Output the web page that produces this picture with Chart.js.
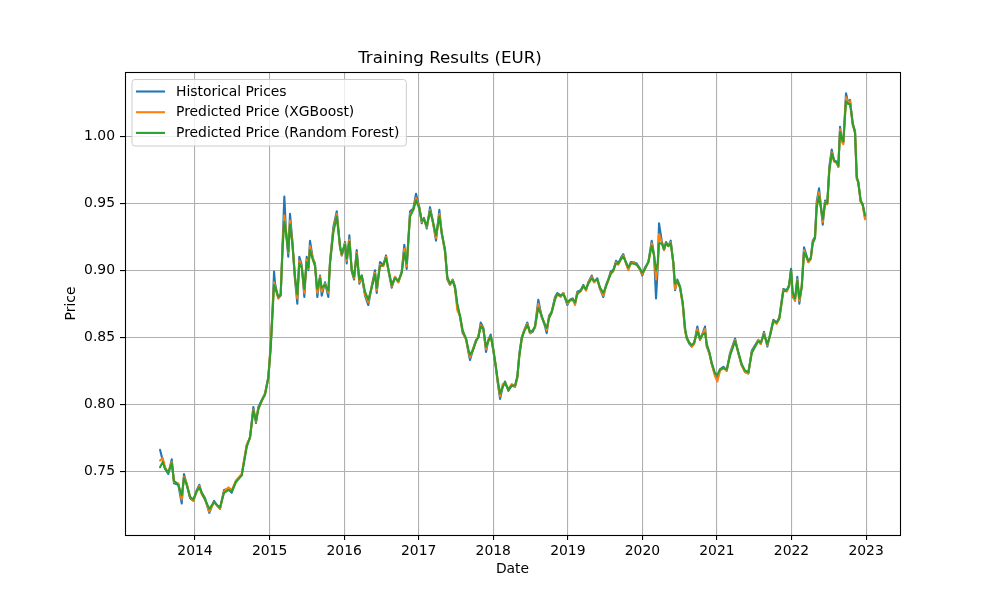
<!DOCTYPE html>
<html>
<head>
<meta charset="utf-8">
<title>Training Results (EUR)</title>
<script src="https://cdn.jsdelivr.net/npm/chart.js@4.4.1/dist/chart.umd.min.js"></script>
<style>
  html, body { margin: 0; padding: 0; background: #fff; }
  #wrap { width: 1000px; height: 600px; }
</style>
</head>
<body>
<div id="wrap"><canvas id="myChart" width="1000" height="600"></canvas></div>
<script>
'use strict';

// dates as decimal years
let dates = [
  2013.531,2013.567,2013.598,2013.642,2013.688,2013.718,2013.776,2013.822,2013.852,2013.889,
  2013.933,2013.977,2014.023,2014.058,2014.090,2014.134,2014.192,2014.255,2014.291,2014.335,
  2014.389,2014.447,2014.492,2014.550,2014.626,2014.693,2014.738,2014.782,2014.818,2014.849,
  2014.895,2014.939,2014.983,2015.015,2015.042,2015.060,2015.073,2015.117,2015.149,2015.176,
  2015.198,2015.221,2015.251,2015.274,2015.305,2015.341,2015.372,2015.399,2015.431,2015.466,
  2015.498,2015.520,2015.542,2015.579,2015.609,2015.640,2015.677,2015.699,2015.744,2015.788,
  2015.811,2015.855,2015.901,2015.945,2015.968,2016.012,2016.035,2016.070,2016.102,2016.133,
  2016.169,2016.204,2016.236,2016.280,2016.324,2016.370,2016.414,2016.437,2016.481,2016.526,
  2016.562,2016.593,2016.638,2016.682,2016.727,2016.772,2016.807,2016.839,2016.884,2016.928,
  2016.964,2017.008,2017.041,2017.071,2017.108,2017.152,2017.188,2017.232,2017.277,2017.309,
  2017.353,2017.384,2017.420,2017.456,2017.487,2017.518,2017.554,2017.590,2017.635,2017.666,
  2017.688,2017.725,2017.769,2017.800,2017.832,2017.867,2017.903,2017.934,2017.966,2018.001,
  2018.033,2018.060,2018.091,2018.127,2018.158,2018.202,2018.248,2018.292,2018.323,2018.350,
  2018.382,2018.413,2018.457,2018.493,2018.529,2018.560,2018.604,2018.650,2018.685,2018.717,
  2018.748,2018.784,2018.828,2018.859,2018.905,2018.940,2018.993,2019.030,2019.066,2019.097,
  2019.127,2019.173,2019.208,2019.244,2019.275,2019.321,2019.351,2019.396,2019.432,2019.476,
  2019.512,2019.543,2019.575,2019.610,2019.646,2019.677,2019.710,2019.744,2019.781,2019.811,
  2019.844,2019.878,2019.924,2019.968,2019.999,2020.035,2020.080,2020.125,2020.156,2020.183,
  2020.206,2020.223,2020.259,2020.290,2020.317,2020.348,2020.380,2020.415,2020.438,2020.469,
  2020.505,2020.541,2020.572,2020.595,2020.630,2020.662,2020.693,2020.737,2020.773,2020.809,
  2020.840,2020.863,2020.898,2020.930,2020.974,2021.005,2021.041,2021.086,2021.131,2021.175,
  2021.243,2021.287,2021.332,2021.377,2021.421,2021.467,2021.511,2021.555,2021.587,2021.631,
  2021.676,2021.712,2021.756,2021.802,2021.837,2021.890,2021.936,2021.967,2021.994,2022.016,
  2022.047,2022.078,2022.105,2022.137,2022.168,2022.195,2022.226,2022.258,2022.285,2022.315,
  2022.338,2022.369,2022.396,2022.419,2022.450,2022.480,2022.507,2022.539,2022.570,2022.607,
  2022.628,2022.651,2022.674,2022.695,2022.731,2022.762,2022.785,2022.821,2022.852,2022.875,
  2022.896,2022.928,2022.955,2022.986
];

let historical = [
  0.766,0.758,0.752,0.748,0.759,0.741,0.740,0.726,0.748,0.740,
  0.730,0.728,0.736,0.740,0.734,0.730,0.719,0.728,0.725,0.722,
  0.736,0.737,0.734,0.743,0.747,0.769,0.775,0.798,0.786,0.798,
  0.803,0.808,0.820,0.843,0.873,0.899,0.890,0.879,0.881,0.922,
  0.955,0.928,0.910,0.942,0.922,0.893,0.875,0.910,0.904,0.880,
  0.910,0.900,0.922,0.909,0.905,0.880,0.896,0.881,0.891,0.880,
  0.907,0.932,0.944,0.917,0.911,0.921,0.905,0.926,0.899,0.893,
  0.915,0.890,0.896,0.881,0.874,0.888,0.900,0.883,0.906,0.904,
  0.911,0.900,0.887,0.895,0.891,0.899,0.919,0.901,0.944,0.946,
  0.957,0.947,0.935,0.939,0.931,0.947,0.937,0.922,0.945,0.927,
  0.915,0.893,0.889,0.893,0.888,0.873,0.865,0.853,0.849,0.839,
  0.833,0.840,0.848,0.850,0.861,0.857,0.839,0.848,0.852,0.840,
  0.828,0.816,0.804,0.813,0.817,0.810,0.814,0.813,0.820,0.838,
  0.850,0.855,0.861,0.853,0.854,0.858,0.878,0.865,0.860,0.853,
  0.866,0.869,0.880,0.883,0.881,0.883,0.874,0.878,0.879,0.875,
  0.884,0.885,0.889,0.885,0.891,0.896,0.891,0.894,0.886,0.880,
  0.889,0.893,0.899,0.900,0.907,0.905,0.909,0.912,0.905,0.901,
  0.906,0.906,0.905,0.901,0.896,0.902,0.906,0.922,0.912,0.879,
  0.902,0.935,0.922,0.915,0.921,0.918,0.922,0.905,0.885,0.893,
  0.888,0.875,0.855,0.849,0.845,0.843,0.845,0.858,0.848,0.853,
  0.858,0.843,0.838,0.830,0.822,0.819,0.826,0.828,0.825,0.838,
  0.849,0.838,0.829,0.824,0.823,0.840,0.844,0.848,0.845,0.854,
  0.843,0.852,0.863,0.861,0.865,0.886,0.885,0.889,0.901,0.880,
  0.878,0.895,0.875,0.888,0.917,0.912,0.906,0.909,0.922,0.925,
  0.951,0.961,0.947,0.934,0.952,0.950,0.977,0.990,0.982,0.981,
  0.977,1.007,0.997,0.995,1.032,1.024,1.027,1.009,1.004,0.968,
  0.966,0.951,0.949,0.939
];

let predXgb = [
  0.758,0.760,0.753,0.749,0.757,0.742,0.741,0.729,0.746,0.741,
  0.731,0.728,0.735,0.739,0.733,0.729,0.720,0.727,0.725,0.722,
  0.735,0.738,0.736,0.743,0.748,0.770,0.775,0.796,0.787,0.797,
  0.802,0.808,0.819,0.845,0.872,0.891,0.888,0.879,0.882,0.920,
  0.941,0.929,0.913,0.937,0.921,0.894,0.879,0.907,0.903,0.883,
  0.908,0.901,0.918,0.909,0.904,0.883,0.895,0.884,0.890,0.883,
  0.906,0.930,0.942,0.917,0.911,0.920,0.907,0.923,0.900,0.894,
  0.913,0.891,0.896,0.882,0.876,0.888,0.898,0.885,0.904,0.903,
  0.910,0.900,0.888,0.895,0.891,0.898,0.916,0.903,0.942,0.945,
  0.954,0.947,0.936,0.938,0.932,0.945,0.936,0.924,0.942,0.928,
  0.913,0.894,0.889,0.893,0.886,0.870,0.866,0.854,0.848,0.840,
  0.835,0.841,0.847,0.851,0.859,0.856,0.841,0.848,0.851,0.840,
  0.829,0.817,0.806,0.815,0.816,0.811,0.815,0.813,0.820,0.837,
  0.849,0.855,0.860,0.853,0.855,0.857,0.875,0.865,0.861,0.855,
  0.865,0.868,0.879,0.882,0.880,0.883,0.875,0.877,0.878,0.874,
  0.883,0.884,0.888,0.885,0.891,0.895,0.891,0.893,0.886,0.881,
  0.888,0.892,0.898,0.899,0.906,0.904,0.908,0.911,0.905,0.900,
  0.905,0.906,0.904,0.900,0.897,0.901,0.906,0.920,0.911,0.893,
  0.903,0.927,0.921,0.915,0.920,0.918,0.921,0.905,0.886,0.892,
  0.887,0.874,0.855,0.849,0.846,0.843,0.845,0.856,0.848,0.853,
  0.856,0.844,0.838,0.830,0.821,0.817,0.825,0.827,0.825,0.837,
  0.848,0.838,0.829,0.824,0.823,0.839,0.843,0.848,0.845,0.853,
  0.844,0.851,0.862,0.860,0.864,0.885,0.884,0.888,0.899,0.881,
  0.877,0.893,0.877,0.888,0.915,0.910,0.906,0.908,0.921,0.924,
  0.949,0.958,0.946,0.936,0.951,0.949,0.975,0.988,0.981,0.980,
  0.977,1.005,0.996,0.994,1.029,1.025,1.026,1.008,1.003,0.969,
  0.965,0.951,0.948,0.938
];

let predRf = [
  0.753,0.757,0.752,0.749,0.756,0.743,0.740,0.732,0.745,0.740,
  0.731,0.729,0.735,0.738,0.734,0.729,0.722,0.727,0.725,0.723,
  0.734,0.736,0.735,0.742,0.747,0.768,0.776,0.795,0.788,0.796,
  0.803,0.807,0.820,0.842,0.870,0.889,0.887,0.880,0.882,0.918,
  0.936,0.928,0.914,0.934,0.920,0.895,0.882,0.905,0.902,0.886,
  0.906,0.902,0.915,0.908,0.903,0.886,0.894,0.887,0.889,0.885,
  0.905,0.928,0.940,0.918,0.912,0.919,0.909,0.921,0.900,0.895,
  0.912,0.893,0.896,0.884,0.878,0.887,0.897,0.887,0.903,0.904,
  0.909,0.901,0.889,0.894,0.892,0.898,0.913,0.905,0.940,0.945,
  0.952,0.946,0.937,0.938,0.933,0.944,0.937,0.926,0.940,0.928,
  0.915,0.895,0.890,0.892,0.887,0.875,0.866,0.855,0.849,0.841,
  0.837,0.840,0.847,0.850,0.858,0.856,0.843,0.847,0.851,0.841,
  0.829,0.818,0.808,0.813,0.816,0.811,0.814,0.814,0.821,0.836,
  0.849,0.854,0.859,0.854,0.855,0.858,0.872,0.866,0.860,0.857,
  0.864,0.869,0.878,0.882,0.881,0.882,0.876,0.878,0.878,0.876,
  0.882,0.885,0.888,0.886,0.890,0.894,0.892,0.893,0.887,0.883,
  0.888,0.893,0.897,0.900,0.905,0.905,0.908,0.910,0.906,0.902,
  0.905,0.905,0.904,0.901,0.898,0.901,0.906,0.918,0.911,0.900,
  0.905,0.920,0.920,0.916,0.920,0.918,0.920,0.906,0.890,0.892,
  0.887,0.876,0.857,0.850,0.846,0.844,0.846,0.854,0.849,0.852,
  0.853,0.845,0.839,0.831,0.823,0.822,0.826,0.827,0.826,0.836,
  0.847,0.839,0.830,0.825,0.824,0.838,0.843,0.847,0.846,0.852,
  0.845,0.851,0.862,0.861,0.864,0.884,0.885,0.888,0.900,0.883,
  0.879,0.892,0.879,0.887,0.913,0.911,0.907,0.909,0.920,0.924,
  0.947,0.955,0.946,0.938,0.950,0.950,0.974,0.987,0.982,0.980,
  0.978,1.003,0.998,0.996,1.026,1.024,1.024,1.010,1.002,0.970,
  0.965,0.952,0.949,0.941
];

let xTicks = [2014, 2015, 2016, 2017, 2018, 2019, 2020, 2021, 2022, 2023];
let yTicks = [0.75, 0.80, 0.85, 0.90, 0.95, 1.00];
let seriesNames = ['Historical Prices', 'Predicted Price (XGBoost)', 'Predicted Price (Random Forest)'];
let seriesColors = ['#1f77b4', '#ff7f0e', '#2ca02c'];

function toPoints(values) {
    return dates.map((d, i) => ({ x: d, y: values[i] }));
}

const FONT = 'DejaVu Sans';
const LINE_W = 2.08;
Chart.defaults.font.family = FONT;
Chart.defaults.color = '#000';

// black frame round the plot area and a matplotlib-like legend box
const framePlugin = {
    id: 'frameAndLegend',
    afterDraw(chart) {
        const ctx = chart.ctx;
        const a = chart.chartArea;
        ctx.save();
        ctx.strokeStyle = '#000';
        ctx.lineWidth = 1.1;
        ctx.strokeRect(Math.round(a.left) + 0.5, Math.round(a.top) + 0.5,
            Math.round(a.right - a.left), Math.round(a.bottom - a.top));

        ctx.font = '13.9px "' + FONT + '"';
        let maxW = 0;
        seriesNames.forEach(n => { maxW = Math.max(maxW, ctx.measureText(n).width); });
        const x0 = a.left + 7, y0 = a.top + 7.5;
        const w = 44 + maxW + 7, h = 66.5;
        const r = 3;
        ctx.beginPath();
        ctx.moveTo(x0 + r, y0);
        ctx.lineTo(x0 + w - r, y0);
        ctx.arcTo(x0 + w, y0, x0 + w, y0 + r, r);
        ctx.lineTo(x0 + w, y0 + h - r);
        ctx.arcTo(x0 + w, y0 + h, x0 + w - r, y0 + h, r);
        ctx.lineTo(x0 + r, y0 + h);
        ctx.arcTo(x0, y0 + h, x0, y0 + h - r, r);
        ctx.lineTo(x0, y0 + r);
        ctx.arcTo(x0, y0, x0 + r, y0, r);
        ctx.closePath();
        ctx.fillStyle = 'rgba(255,255,255,0.8)';
        ctx.fill();
        ctx.strokeStyle = '#cccccc';
        ctx.lineWidth = 1;
        ctx.stroke();

        ctx.textBaseline = 'middle';
        ctx.textAlign = 'left';
        seriesNames.forEach((n, i) => {
            const yy = y0 + 12 + i * 20.7;
            ctx.strokeStyle = seriesColors[i];
            ctx.lineWidth = LINE_W;
            ctx.beginPath();
            ctx.moveTo(x0 + 4, yy);
            ctx.lineTo(x0 + 33, yy);
            ctx.stroke();
            ctx.fillStyle = '#000';
            ctx.fillText(n, x0 + 44, yy + 0.5);
        });
        ctx.restore();
    }
};

function lineSet(i, values, order) {
    return {
        label: seriesNames[i],
        data: toPoints(values),
        borderColor: seriesColors[i],
        borderWidth: LINE_W,
        borderJoinStyle: 'round',
        borderCapStyle: 'round',
        pointRadius: 0,
        order: order
    };
}

let ctx = document.getElementById('myChart').getContext('2d');
let myChart = new Chart(ctx, {
    type: 'line',
    data: {
        datasets: [
            lineSet(0, historical, 3),
            lineSet(1, predXgb, 2),
            lineSet(2, predRf, 1)
        ]
    },
    options: {
        responsive: false,
        animation: false,
        devicePixelRatio: 1,
        layout: { padding: { left: 0, right: 100, top: 0, bottom: 0 } },
        plugins: {
            legend: { display: false },
            tooltip: { enabled: false },
            title: {
                display: true,
                text: 'Training Results (EUR)',
                color: '#000',
                font: { size: 16.67, weight: 'normal' },
                padding: { top: 49, bottom: 3 }
            }
        },
        scales: {
            x: {
                type: 'linear',
                min: 2013.061,
                max: 2023.455,
                afterBuildTicks: s => { s.ticks = xTicks.map(v => ({ value: v })); },
                afterFit: s => { s.height = 65; },
                ticks: {
                    autoSkip: false,
                    maxRotation: 0,
                    padding: 3,
                    font: { size: 13.9 },
                    callback: v => String(v)
                },
                grid: { color: '#b0b0b0', lineWidth: 1.1, tickColor: '#000', tickLength: 5, tickWidth: 1.1 },
                border: { display: false },
                title: {
                    display: true,
                    text: 'Date',
                    font: { size: 13.9 },
                    padding: { top: 0, bottom: 22 }
                }
            },
            y: {
                min: 0.7025,
                max: 1.0478,
                afterBuildTicks: s => { s.ticks = yTicks.map(v => ({ value: v })); },
                afterFit: s => { s.width = 125; },
                ticks: {
                    autoSkip: false,
                    padding: 5,
                    font: { size: 13.9 },
                    callback: v => v.toFixed(2)
                },
                grid: { color: '#b0b0b0', lineWidth: 1.1, tickColor: '#000', tickLength: 5, tickWidth: 1.1 },
                border: { display: false },
                title: {
                    display: true,
                    text: 'Price',
                    font: { size: 13.9 },
                    padding: { top: 63, bottom: 0 }
                }
            }
        }
    },
    plugins: [framePlugin]
});
</script>
</body>
</html>
